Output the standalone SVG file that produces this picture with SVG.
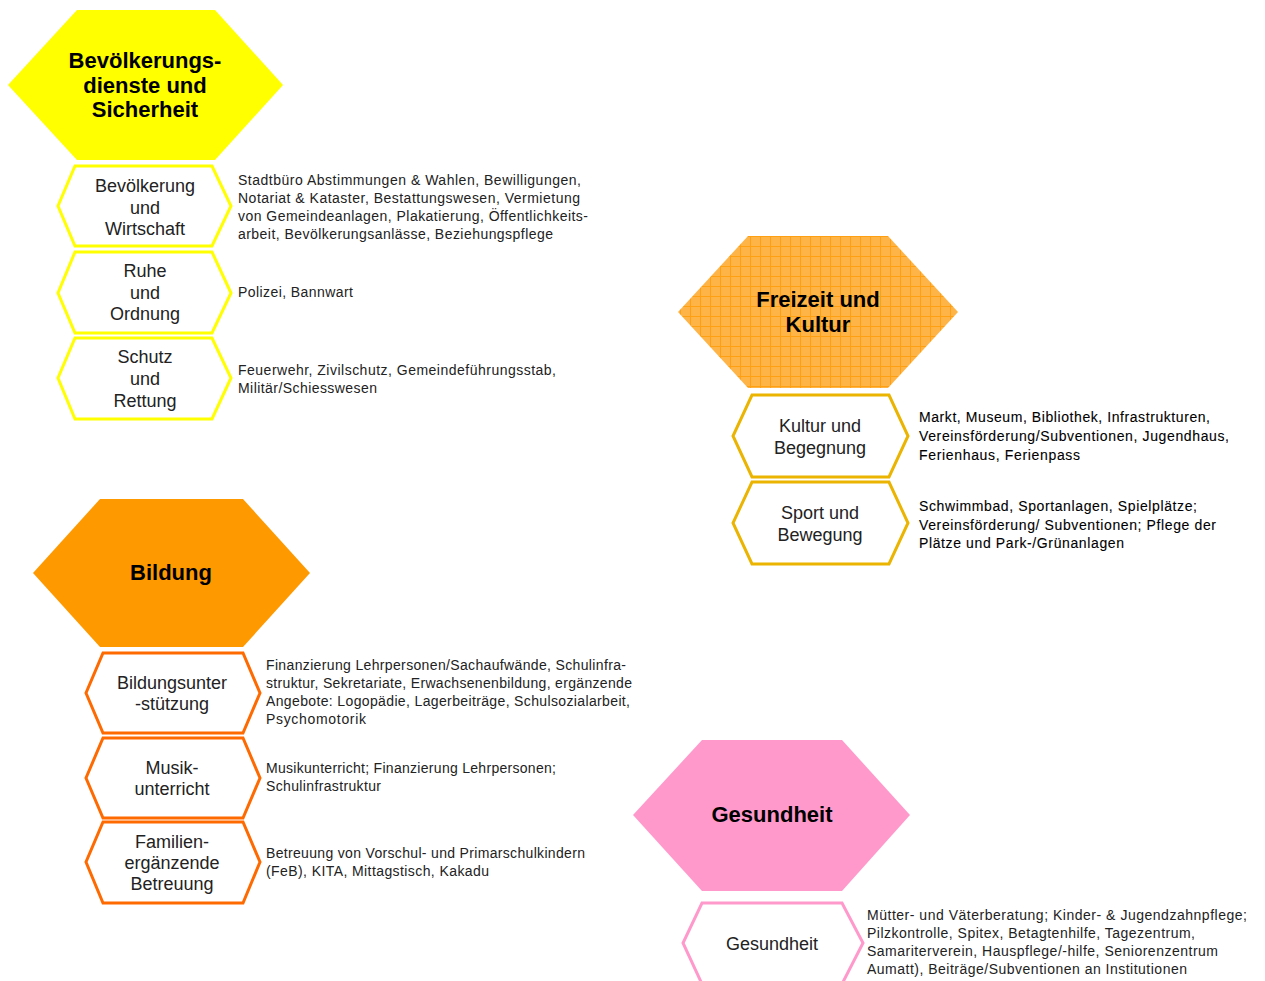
<svg xmlns="http://www.w3.org/2000/svg" width="1265" height="981" viewBox="0 0 1265 981">
  <defs>
    <pattern id="grid" patternUnits="userSpaceOnUse" width="10" height="10" x="0" y="236">
      <rect width="10" height="10" fill="#FFB448"/>
      <path d="M0 0.5H10M0.5 0V10" stroke="#FFA012" stroke-width="1" fill="none"/>
    </pattern>
    <style>
      .head { font-family: "Liberation Sans", Arial, sans-serif; font-weight: bold; font-size: 22px; fill: #000; text-anchor: middle; }
      .sub { font-family: "Liberation Sans", Arial, sans-serif; font-size: 18px; fill: #222; text-anchor: middle; }
      .desc { font-family: "Liberation Sans", Arial, sans-serif; font-size: 14px; fill: #222; }
      .desc.dark { fill: #000; stroke: #000; stroke-width: 0.1; }
      .frame { fill: #fff; stroke-width: 3; stroke-linejoin: miter; }
      .y { stroke: #FFFF00; }
      .g { stroke: #EBB400; }
      .o { stroke: #FF6A00; }
      .p { stroke: #FF99CC; }
    </style>
  </defs>

  <rect width="1265" height="981" fill="#fff"/>

  <!-- Bevölkerungsdienste und Sicherheit -->
  <g id="bevoelkerungsdienste">
    <polygon points="77,10 215,10 283,85 215,160 77,160 8,85" fill="#FFFF00"/>
    <text class="head" x="145" y="68">Bevölkerungs-</text>
    <text class="head" x="145" y="93">dienste und</text>
    <text class="head" x="145" y="117">Sicherheit</text>
  </g>

  <g id="bevoelkerung-wirtschaft">
    <polygon class="frame y" points="75,166 212,166 231,206 212,246 75,246 58,206"/>
    <text class="sub" x="145" y="192">Bevölkerung</text>
    <text class="sub" x="145" y="214">und</text>
    <text class="sub" x="145" y="235">Wirtschaft</text>
    <text class="desc" x="238" y="185" textLength="343" lengthAdjust="spacing">Stadtbüro Abstimmungen &amp; Wahlen, Bewilligungen,</text>
    <text class="desc" x="238" y="203" textLength="342" lengthAdjust="spacing">Notariat &amp; Kataster, Bestattungswesen, Vermietung</text>
    <text class="desc" x="238" y="221" textLength="350" lengthAdjust="spacing">von Gemeindeanlagen, Plakatierung, Öffentlichkeits-</text>
    <text class="desc" x="238" y="239" textLength="315" lengthAdjust="spacing">arbeit, Bevölkerungsanlässe, Beziehungspflege</text>
  </g>

  <g id="ruhe-ordnung">
    <polygon class="frame y" points="75,252 212,252 231,293 212,333 75,333 58,293"/>
    <text class="sub" x="145" y="277">Ruhe</text>
    <text class="sub" x="145" y="299">und</text>
    <text class="sub" x="145" y="320">Ordnung</text>
    <text class="desc" x="238" y="297" textLength="115" lengthAdjust="spacing">Polizei, Bannwart</text>
  </g>

  <g id="schutz-rettung">
    <polygon class="frame y" points="75,338 212,338 231,378 212,419 75,419 58,378"/>
    <text class="sub" x="145" y="363">Schutz</text>
    <text class="sub" x="145" y="385">und</text>
    <text class="sub" x="145" y="407">Rettung</text>
    <text class="desc" x="238" y="375" textLength="318" lengthAdjust="spacing">Feuerwehr, Zivilschutz, Gemeindeführungsstab,</text>
    <text class="desc" x="238" y="393" textLength="139" lengthAdjust="spacing">Militär/Schiesswesen</text>
  </g>

  <!-- Freizeit und Kultur -->
  <g id="freizeit-kultur">
    <polygon points="748,236 888,236 958,312 888,388 748,388 678,312" fill="url(#grid)"/>
    <text class="head" x="818" y="307">Freizeit und</text>
    <text class="head" x="818" y="332">Kultur</text>
  </g>

  <g id="kultur-begegnung">
    <polygon class="frame g" points="752,395 889,395 908,436 889,477 752,477 733,436"/>
    <text class="sub" x="820" y="432">Kultur und</text>
    <text class="sub" x="820" y="454">Begegnung</text>
    <text class="desc dark" x="919" y="422" textLength="291" lengthAdjust="spacing">Markt, Museum, Bibliothek, Infrastrukturen,</text>
    <text class="desc dark" x="919" y="441" textLength="310" lengthAdjust="spacing">Vereinsförderung/Subventionen, Jugendhaus,</text>
    <text class="desc dark" x="919" y="460" textLength="161" lengthAdjust="spacing">Ferienhaus, Ferienpass</text>
  </g>

  <g id="sport-bewegung">
    <polygon class="frame g" points="752,482 889,482 908,523 889,564 752,564 733,523"/>
    <text class="sub" x="820" y="519">Sport und</text>
    <text class="sub" x="820" y="541">Bewegung</text>
    <text class="desc dark" x="919" y="511" textLength="278" lengthAdjust="spacing">Schwimmbad, Sportanlagen, Spielplätze;</text>
    <text class="desc dark" x="919" y="530" textLength="297" lengthAdjust="spacing">Vereinsförderung/ Subventionen; Pflege der</text>
    <text class="desc dark" x="919" y="548" textLength="205" lengthAdjust="spacing">Plätze und Park-/Grünanlagen</text>
  </g>

  <!-- Bildung -->
  <g id="bildung">
    <polygon points="100,499 243,499 310,573 243,647 100,647 33,573" fill="#FF9900"/>
    <text class="head" x="171" y="580">Bildung</text>
  </g>

  <g id="bildungsunterstuetzung">
    <polygon class="frame o" points="103,653 243,653 260,693 243,733 103,733 86,693"/>
    <text class="sub" x="172" y="689">Bildungsunter</text>
    <text class="sub" x="172" y="710">-stützung</text>
    <text class="desc" x="266" y="670" textLength="360" lengthAdjust="spacing">Finanzierung Lehrpersonen/Sachaufwände, Schulinfra-</text>
    <text class="desc" x="266" y="688" textLength="366" lengthAdjust="spacing">struktur, Sekretariate, Erwachsenenbildung, ergänzende</text>
    <text class="desc" x="266" y="706" textLength="364" lengthAdjust="spacing">Angebote: Logopädie, Lagerbeiträge, Schulsozialarbeit,</text>
    <text class="desc" x="266" y="724" textLength="100" lengthAdjust="spacing">Psychomotorik</text>
  </g>

  <g id="musikunterricht">
    <polygon class="frame o" points="103,738 243,738 260,778 243,818 103,818 86,778"/>
    <text class="sub" x="172" y="774">Musik-</text>
    <text class="sub" x="172" y="795">unterricht</text>
    <text class="desc" x="266" y="773" textLength="290" lengthAdjust="spacing">Musikunterricht; Finanzierung  Lehrpersonen;</text>
    <text class="desc" x="266" y="791" textLength="115" lengthAdjust="spacing">Schulinfrastruktur</text>
  </g>

  <g id="familienergaenzende-betreuung">
    <polygon class="frame o" points="103,822 243,822 260,862 243,903 103,903 86,862"/>
    <text class="sub" x="172" y="848">Familien-</text>
    <text class="sub" x="172" y="869">ergänzende</text>
    <text class="sub" x="172" y="890">Betreuung</text>
    <text class="desc" x="266" y="858" textLength="319" lengthAdjust="spacing">Betreuung von Vorschul- und Primarschulkindern</text>
    <text class="desc" x="266" y="876" textLength="223" lengthAdjust="spacing">(FeB), KITA, Mittagstisch, Kakadu</text>
  </g>

  <!-- Gesundheit -->
  <g id="gesundheit">
    <polygon points="702,740 842,740 910,815 842,891 702,891 633,815" fill="#FF99CC"/>
    <text class="head" x="772" y="822">Gesundheit</text>
  </g>

  <g id="gesundheit-detail">
    <polygon class="frame p" points="702,903 842,903 863,943 842,984 702,984 683,943"/>
    <text class="sub" x="772" y="950">Gesundheit</text>
    <text class="desc" x="867" y="920" textLength="380" lengthAdjust="spacing">Mütter- und Väterberatung; Kinder- &amp; Jugendzahnpflege;</text>
    <text class="desc" x="867" y="938" textLength="328" lengthAdjust="spacing">Pilzkontrolle, Spitex, Betagtenhilfe, Tagezentrum,</text>
    <text class="desc" x="867" y="956" textLength="351" lengthAdjust="spacing">Samariterverein,  Hauspflege/-hilfe, Seniorenzentrum</text>
    <text class="desc" x="867" y="974" textLength="320" lengthAdjust="spacing">Aumatt), Beiträge/Subventionen an Institutionen</text>
  </g>

  <!-- connectors: none drawn in this chart -->
  <g id="connectors"/>
</svg>
